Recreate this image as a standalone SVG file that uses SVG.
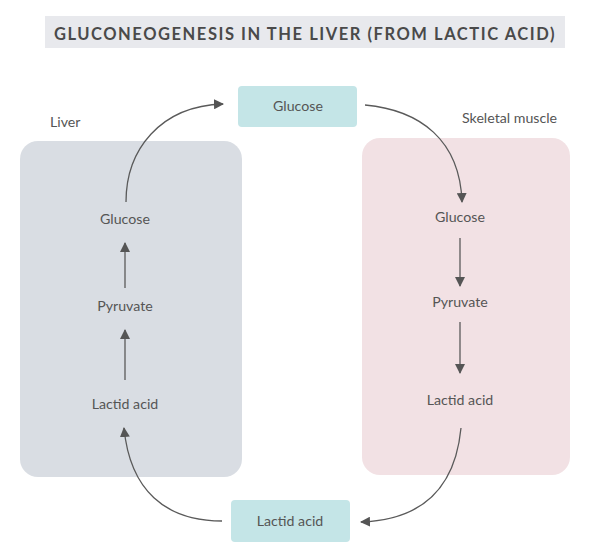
<svg xmlns="http://www.w3.org/2000/svg" width="600" height="559" viewBox="0 0 600 559">
<style>
text{font-family:Lato,"Open Sans","Liberation Sans",sans-serif;fill:#555;font-size:14.2px;text-anchor:middle}
.title{font-weight:bold;font-size:16.5px;letter-spacing:1.55px;fill:#4a4a4a}
.lbl{text-anchor:start}
.c{fill:none;stroke:#5a5a5a;stroke-width:1.3}
</style>
<defs>
<marker id="ah" viewBox="0 0 10 10" refX="9" refY="5" markerWidth="10" markerHeight="10" markerUnits="userSpaceOnUse" orient="auto">
<path d="M0,0 L10,5 L0,10 z" fill="#555"/>
</marker>
</defs>
<rect x="45" y="16" width="520" height="32" fill="#e8e9ed"/>
<text class="title" x="305" y="39.5">GLUCONEOGENESIS IN THE LIVER (FROM LACTIC ACID)</text>
<g id="liver">
<rect x="20" y="141" width="222" height="336" rx="18" fill="#d9dde3"/>
<text class="lbl" x="50" y="127">Liver</text>
</g>
<g id="muscle">
<rect x="362" y="138" width="208" height="337" rx="18" fill="#f2e1e4"/>
<text class="lbl" x="462" y="123">Skeletal muscle</text>
</g>
<g id="glucose-blood">
<rect x="238" y="86" width="119" height="41" rx="4" fill="#c4e5e7"/>
<text x="298" y="111">Glucose</text>
</g>
<g id="lactic-blood">
<rect x="231" y="500" width="119" height="42" rx="4" fill="#c4e5e7"/>
<text x="290" y="526">Lactid acid</text>
</g>
<g id="liver-glucose"><text x="125" y="224">Glucose</text></g>
<g id="liver-pyruvate"><text x="125" y="311">Pyruvate</text></g>
<g id="liver-lactic"><text x="125" y="409">Lactid acid</text></g>
<g id="muscle-glucose"><text x="460" y="222">Glucose</text></g>
<g id="muscle-pyruvate"><text x="460" y="307">Pyruvate</text></g>
<g id="muscle-lactic"><text x="460" y="405">Lactid acid</text></g>
<g id="connectors">
<path class="c" d="M125,288 L125,243" marker-end="url(#ah)"/>
<path class="c" d="M125,380 L125,330" marker-end="url(#ah)"/>
<path class="c" d="M126,202 C126,150 160,106 223,104" marker-end="url(#ah)"/>
<path class="c" d="M222,521 C165,521 130,490 124,428" marker-end="url(#ah)"/>
<path class="c" d="M460,238 L460,286" marker-end="url(#ah)"/>
<path class="c" d="M460,322 L460,373" marker-end="url(#ah)"/>
<path class="c" d="M365,105 C420,110 460,140 462,202" marker-end="url(#ah)"/>
<path class="c" d="M461,428 C455,490 420,520 361,522" marker-end="url(#ah)"/>
</g>
</svg>
